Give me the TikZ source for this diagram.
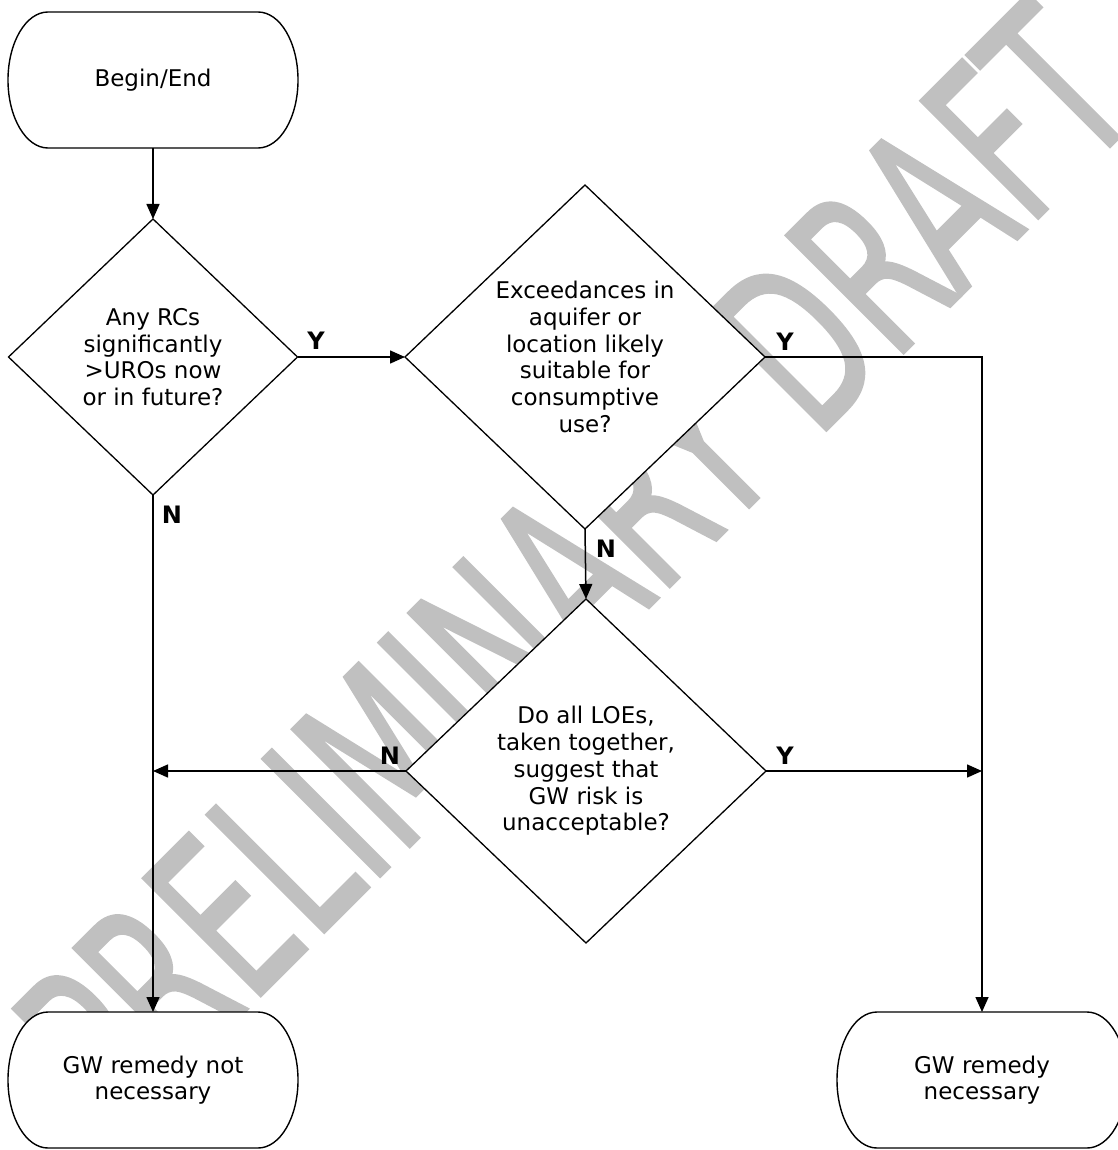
\documentclass[tikz,border=0pt]{standalone}
\usepackage{fontspec}
\setmainfont{DejaVu Sans}
\newfontfamily\wmfont[FakeBold=1.5]{DejaVu Sans}
\usetikzlibrary{shapes.geometric,arrows.meta}
\definecolor{wmgray}{RGB}{192,192,192}

% terminator: straight top and bottom, elliptical end caps
\newcommand\flowterminal[3]{%
  \coordinate (#1-c) at (#2);
  \path[termline] (#1-c) ++(-105pt,68pt) -- ++(210pt,0pt)
    arc[start angle=90,end angle=-90,x radius=40pt,y radius=68pt]
    -- ++(-210pt,0pt)
    arc[start angle=270,end angle=90,x radius=40pt,y radius=68pt] -- cycle;
  \node[termtext] (#1) at (#1-c) {#3};}

\begin{document}
\begin{tikzpicture}[x=1pt,y=-1pt,
  every node/.style={inner sep=0pt,outer sep=0pt},
  bodyfont/.style={font=\fontsize{23}{26.7}\selectfont},
  termline/.style={draw=black,line width=1.4pt,fill=white},
  termtext/.style={bodyfont,align=center,minimum width=290pt,minimum height=136pt},
  decision/.style={diamond,draw=black,line width=1.3pt,fill=white,align=center,bodyfont},
  flow/.style={line width=1.5pt,-{Triangle[length=15pt,width=13pt]}},
  yn/.style={font=\fontsize{24}{24}\bfseries\selectfont}]
\useasboundingbox (0,0) rectangle (1117,1150);

% watermark behind everything: tall letters on a 45 degree diagonal
\node[text=wmgray,rotate=45] (wm) at (574,565)
  {\scalebox{1}[1.6]{\wmfont\fontsize{142}{142}\selectfont PRELIMINARY DRAFT}};

% terminators
\flowterminal{start}{153,80}{Begin/End}
\flowterminal{nogw}{153,1080}{GW remedy not\\necessary}
\flowterminal{yesgw}{982,1080}{GW remedy\\necessary}

% decisions
\node[decision,minimum width=289pt,minimum height=276pt] (d1) at (153,357)
  {Any RCs\\significantly\\>UROs now\\or in future?};
\node[decision,minimum width=360pt,minimum height=344pt] (d2) at (585,357)
  {Exceedances in\\aquifer or\\location likely\\suitable for\\consumptive\\use?};
\node[decision,minimum width=360pt,minimum height=344pt] (d3) at (586,771)
  {Do all LOEs,\\taken together,\\suggest that\\GW risk is\\unacceptable?};

% connectors
\draw[flow] (start.south) -- (d1.north);
\draw[flow] (d1.east) -- (d2.west);
\draw[flow] (d1.south) -- (nogw.north);
\draw[flow] (d2.east) -| (yesgw.north);
\draw[flow] (d2.south) -- (d3.north);
\draw[flow] (d3.west) -- (d3.west -| nogw.north);
\draw[flow] (d3.east) -- (d3.east -| yesgw.north);

% branch labels
\node[yn] (y1) at (316,341) {Y};
\node[yn] (n1) at (172,515) {N};
\node[yn] (y2) at (785,342) {Y};
\node[yn] (n2) at (606,549) {N};
\node[yn] (n3) at (390,756) {N};
\node[yn] (y3) at (785,756) {Y};
\end{tikzpicture}
\end{document}
